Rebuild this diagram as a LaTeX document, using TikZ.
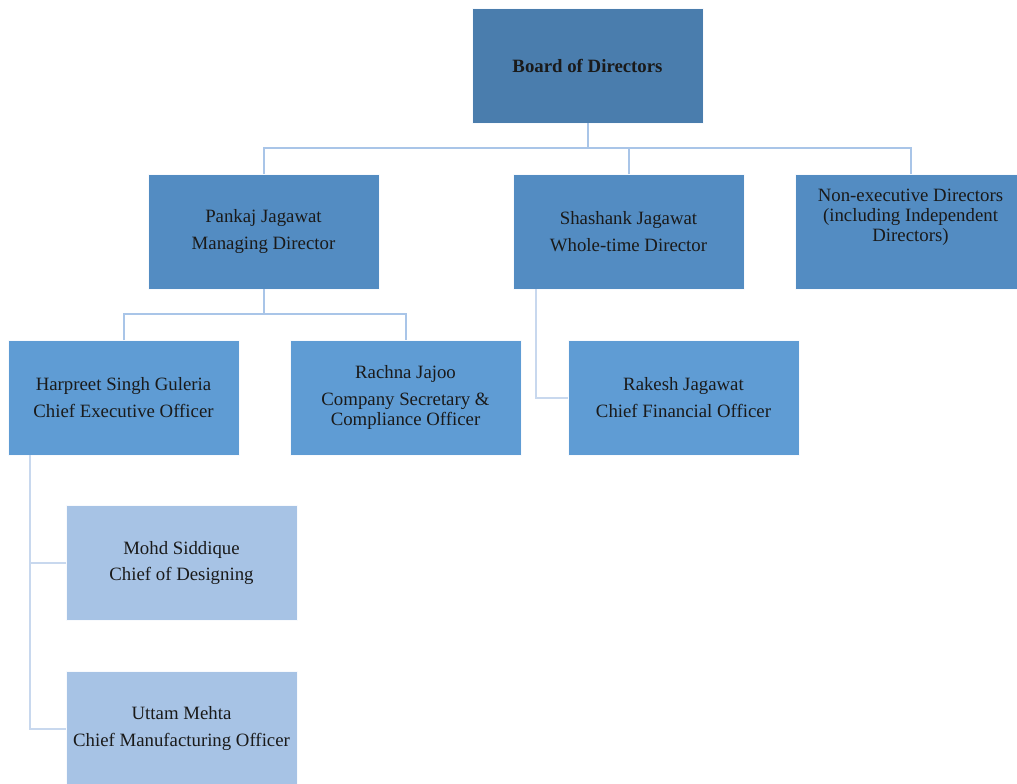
\documentclass[tikz,border=0pt]{standalone}
\usepackage{fontspec}
\setmainfont{Liberation Serif}
\definecolor{cBoard}{HTML}{4A7DAD}
\definecolor{cLevTwo}{HTML}{538CC2}
\definecolor{cLevThree}{HTML}{5F9CD4}
\definecolor{cLevFour}{HTML}{A7C3E5}
\definecolor{cLine}{HTML}{A9C5E8}
\definecolor{cLineLight}{HTML}{C8D8EE}
\definecolor{cText}{HTML}{1A1A1A}
\tikzset{
  box/.style={rectangle, draw=white!92!cLine, line width=0.8pt, minimum width=231pt, minimum height=115pt,
    inner sep=0pt, outer sep=0pt, align=center, text=cText, font=\fontsize{18.8}{20}\selectfont},
  conn/.style={draw=cLine, line width=2pt},
  connlight/.style={draw=cLineLight, line width=2pt},
}
\begin{document}
\begin{tikzpicture}[x=1pt,y=-1pt]
\useasboundingbox (0,0) rectangle (1017,784);
\clip (0,0) rectangle (1017,784);
\fill[white] (0,0) rectangle (1017,784);

\coordinate (j1) at (587.5,148);
\coordinate (j2) at (263.5,314);

\node[box, fill=cBoard] (board) at (587.5,65.5) {\textbf{Board of Directors}};
\node[box, fill=cLevTwo] (pankaj) at (263.5,231.5) {Pankaj Jagawat\\[7pt]Managing Director};
\node[box, fill=cLevTwo] (shashank) at (628.5,231.5) {Shashank Jagawat\\[7pt]Whole-time Director};
\node[box, fill=cLevTwo] (ned) at (910.5,231.5) {};
\node[align=center, text=cText, font=\fontsize{18.8}{20}\selectfont, inner sep=0pt] (nedtext) at (910.5,217.5)
  {Non-executive Directors\\(including Independent\\Directors)};
\node[box, fill=cLevThree] (harpreet) at (123.5,397.5) {Harpreet Singh Guleria\\[7pt]Chief Executive Officer};
\node[box, fill=cLevThree] (rachna) at (405.5,397.5) {Rachna Jajoo\\[7pt]Company Secretary \&\\Compliance Officer};
\node[box, fill=cLevThree] (rakesh) at (683.5,397.5) {Rakesh Jagawat\\[7pt]Chief Financial Officer};
\node[box, fill=cLevFour] (mohd) at (181.5,563) {Mohd Siddique\\[7pt]Chief of Designing};
\node[box, fill=cLevFour] (uttam) at (181.5,728.5) {Uttam Mehta\\[7pt]Chief Manufacturing Officer};

\draw[conn] (board.south) -- (j1);
\draw[conn] (pankaj.north) |- (j1) -| (ned.north);
\draw[conn] (shashank.north) -- (shashank.north |- j1);
\draw[conn] (pankaj.south) -- (j2);
\draw[conn] (harpreet.north) |- (j2) -| (rachna.north);
\draw[connlight] ([xshift=-92.5pt]shashank.south) |- (rakesh.west);
\draw[connlight] ([xshift=-93.5pt]harpreet.south) |- (uttam.west);
\draw[connlight] (mohd.west) -- ++(-36.5,0);
\end{tikzpicture}
\end{document}
